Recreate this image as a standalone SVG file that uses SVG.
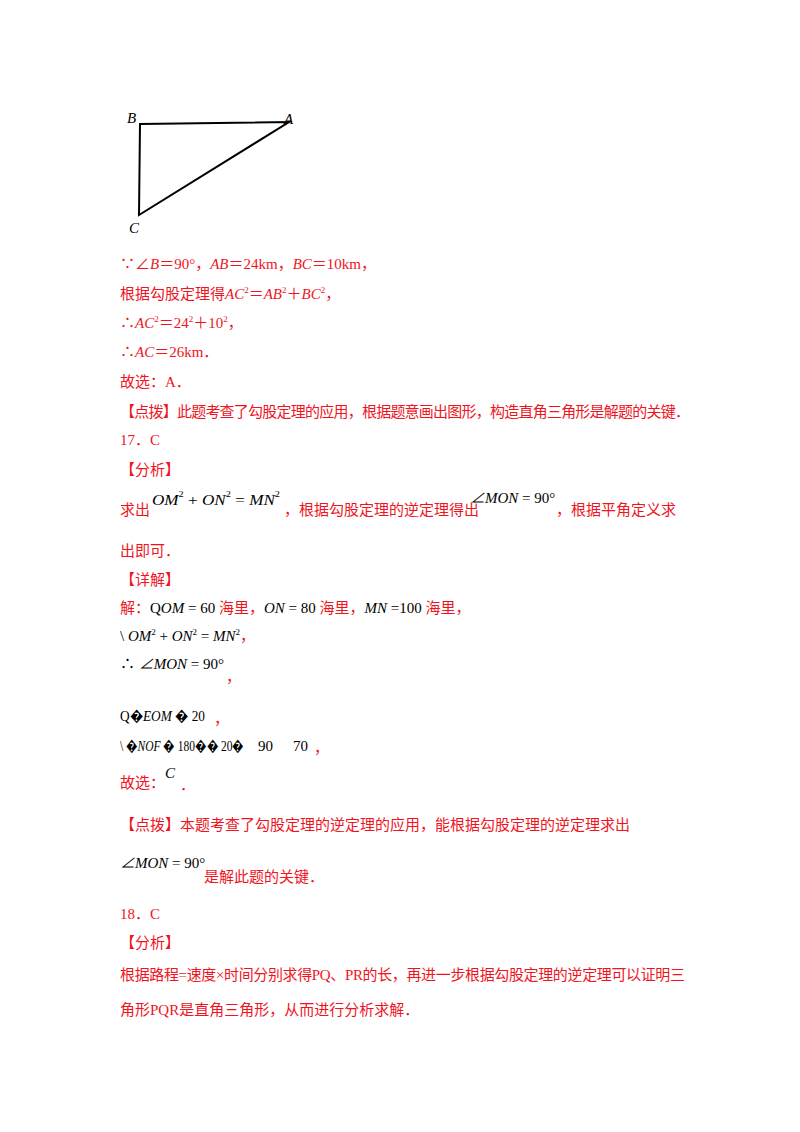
<svg xmlns="http://www.w3.org/2000/svg" width="800" height="1132" viewBox="0 0 800 1132">
<style>
.r{fill:#f0141e;font-family:"Liberation Serif","Noto Sans CJK SC",serif;font-size:15px}
.k{fill:#000;font-family:"Liberation Serif","Noto Sans CJK SC",serif;font-size:15px}
.i{font-style:italic}
.s{font-size:9px}
</style>
<rect width="800" height="1132" fill="#fff"/>
<g id="triangle">
<polygon points="140,124 289,122 139,215" fill="none" stroke="#000" stroke-width="2"/>
<text class="k i" x="127" y="123" font-size="18">B</text>
<text class="k i" x="284" y="124" font-size="18">A</text>
<text class="k i" x="129" y="233" font-size="18">C</text>
</g>
<g id="text">
<text class="r" x="120" y="269">∵∠<tspan class="i">B</tspan>＝90°，<tspan class="i">AB</tspan>＝24km，<tspan class="i">BC</tspan>＝10km，</text>
<text class="r" x="120" y="299">根据勾股定理得<tspan class="i">AC</tspan><tspan class="s" dy="-6">2</tspan><tspan dy="6">＝</tspan><tspan class="i">AB</tspan><tspan class="s" dy="-6">2</tspan><tspan dy="6">＋</tspan><tspan class="i">BC</tspan><tspan class="s" dy="-6">2</tspan><tspan dy="6">，</tspan></text>
<text class="r" x="120" y="328">∴<tspan class="i">AC</tspan><tspan class="s" dy="-6">2</tspan><tspan dy="6">＝24</tspan><tspan class="s" dy="-6">2</tspan><tspan dy="6">＋10</tspan><tspan class="s" dy="-6">2</tspan><tspan dy="6">，</tspan></text>
<text class="r" x="120" y="357">∴<tspan class="i">AC</tspan>＝26km．</text>
<text class="r" x="120" y="387">故选：A．</text>
<text class="r" x="120" y="417" textLength="570">【点拨】此题考查了勾股定理的应用，根据题意画出图形，构造直角三角形是解题的关键．</text>
<text class="r" x="120" y="445">17．C</text>
<text class="r" x="120" y="475">【分析】</text>
<text class="r" x="120" y="515">求出</text>
<text class="k i" x="152" y="505" font-size="18" textLength="128" lengthAdjust="spacingAndGlyphs" xml:space="preserve">OM<tspan class="s" font-style="normal" dy="-8">2</tspan><tspan font-style="normal" dy="8"> + </tspan>ON<tspan class="s" font-style="normal" dy="-8">2</tspan><tspan font-style="normal" dy="8"> = </tspan>MN<tspan class="s" font-style="normal" dy="-8">2</tspan></text>
<text class="r" x="284" y="515">，根据勾股定理的逆定理得出</text>
<text class="k" x="470" y="503" font-size="18" xml:space="preserve"><tspan font-style="italic">∠MON</tspan> = 90°</text>
<text class="r" x="556" y="515">，根据平角定义求</text>
<text class="r" x="120" y="556">出即可．</text>
<text class="r" x="120" y="585">【详解】</text>
<text class="r" x="120" y="613" xml:space="preserve">解：<tspan class="k">Q<tspan class="i">OM</tspan> = 60 </tspan>海里，<tspan class="k"><tspan class="i">ON</tspan> = 80 </tspan>海里，<tspan class="k" font-size="17"><tspan class="i">MN</tspan> =100 </tspan>海里，</text>
<text class="r" x="120" y="641" xml:space="preserve"><tspan class="k">\ <tspan class="i">OM</tspan><tspan class="s" dy="-6">2</tspan><tspan dy="6"> + </tspan><tspan class="i">ON</tspan><tspan class="s" dy="-6">2</tspan><tspan dy="6"> = </tspan><tspan class="i">MN</tspan><tspan class="s" dy="-6">2</tspan></tspan><tspan dy="6">，</tspan></text>
<text class="k" x="120" y="669" font-size="17" xml:space="preserve">∴ <tspan class="i">∠MON</tspan> = 90°</text>
<text class="r" x="226" y="682">，</text>
<text class="k" x="120" y="721" textLength="85" lengthAdjust="spacingAndGlyphs" xml:space="preserve">Q�<tspan class="i">EOM</tspan> � 20</text>
<text class="r" x="214" y="724">，</text>
<text class="k" x="120" y="751" textLength="124" lengthAdjust="spacingAndGlyphs" xml:space="preserve">\ �<tspan class="i">NOF</tspan> � 180�� 20�</text>
<text class="k" x="258" y="751">90</text>
<text class="k" x="293" y="751">70</text>
<text class="r" x="314" y="753">，</text>
<text class="r" x="120" y="788">故选：</text>
<text class="k i" x="165" y="778" font-size="18">C</text>
<text class="r" x="180" y="790">．</text>
<text class="r" x="120" y="830">【点拨】本题考查了勾股定理的逆定理的应用，能根据勾股定理的逆定理求出</text>
<text class="k" x="120" y="868" font-size="18" xml:space="preserve"><tspan class="i">∠MON</tspan> = 90°</text>
<text class="r" x="204" y="882">是解此题的关键．</text>
<text class="r" x="120" y="919">18．C</text>
<text class="r" x="120" y="948">【分析】</text>
<text class="r" x="120" y="980" textLength="565">根据路程=速度×时间分别求得PQ、PR的长，再进一步根据勾股定理的逆定理可以证明三</text>
<text class="r" x="120" y="1015">角形PQR是直角三角形，从而进行分析求解．</text>
</g>
</svg>
